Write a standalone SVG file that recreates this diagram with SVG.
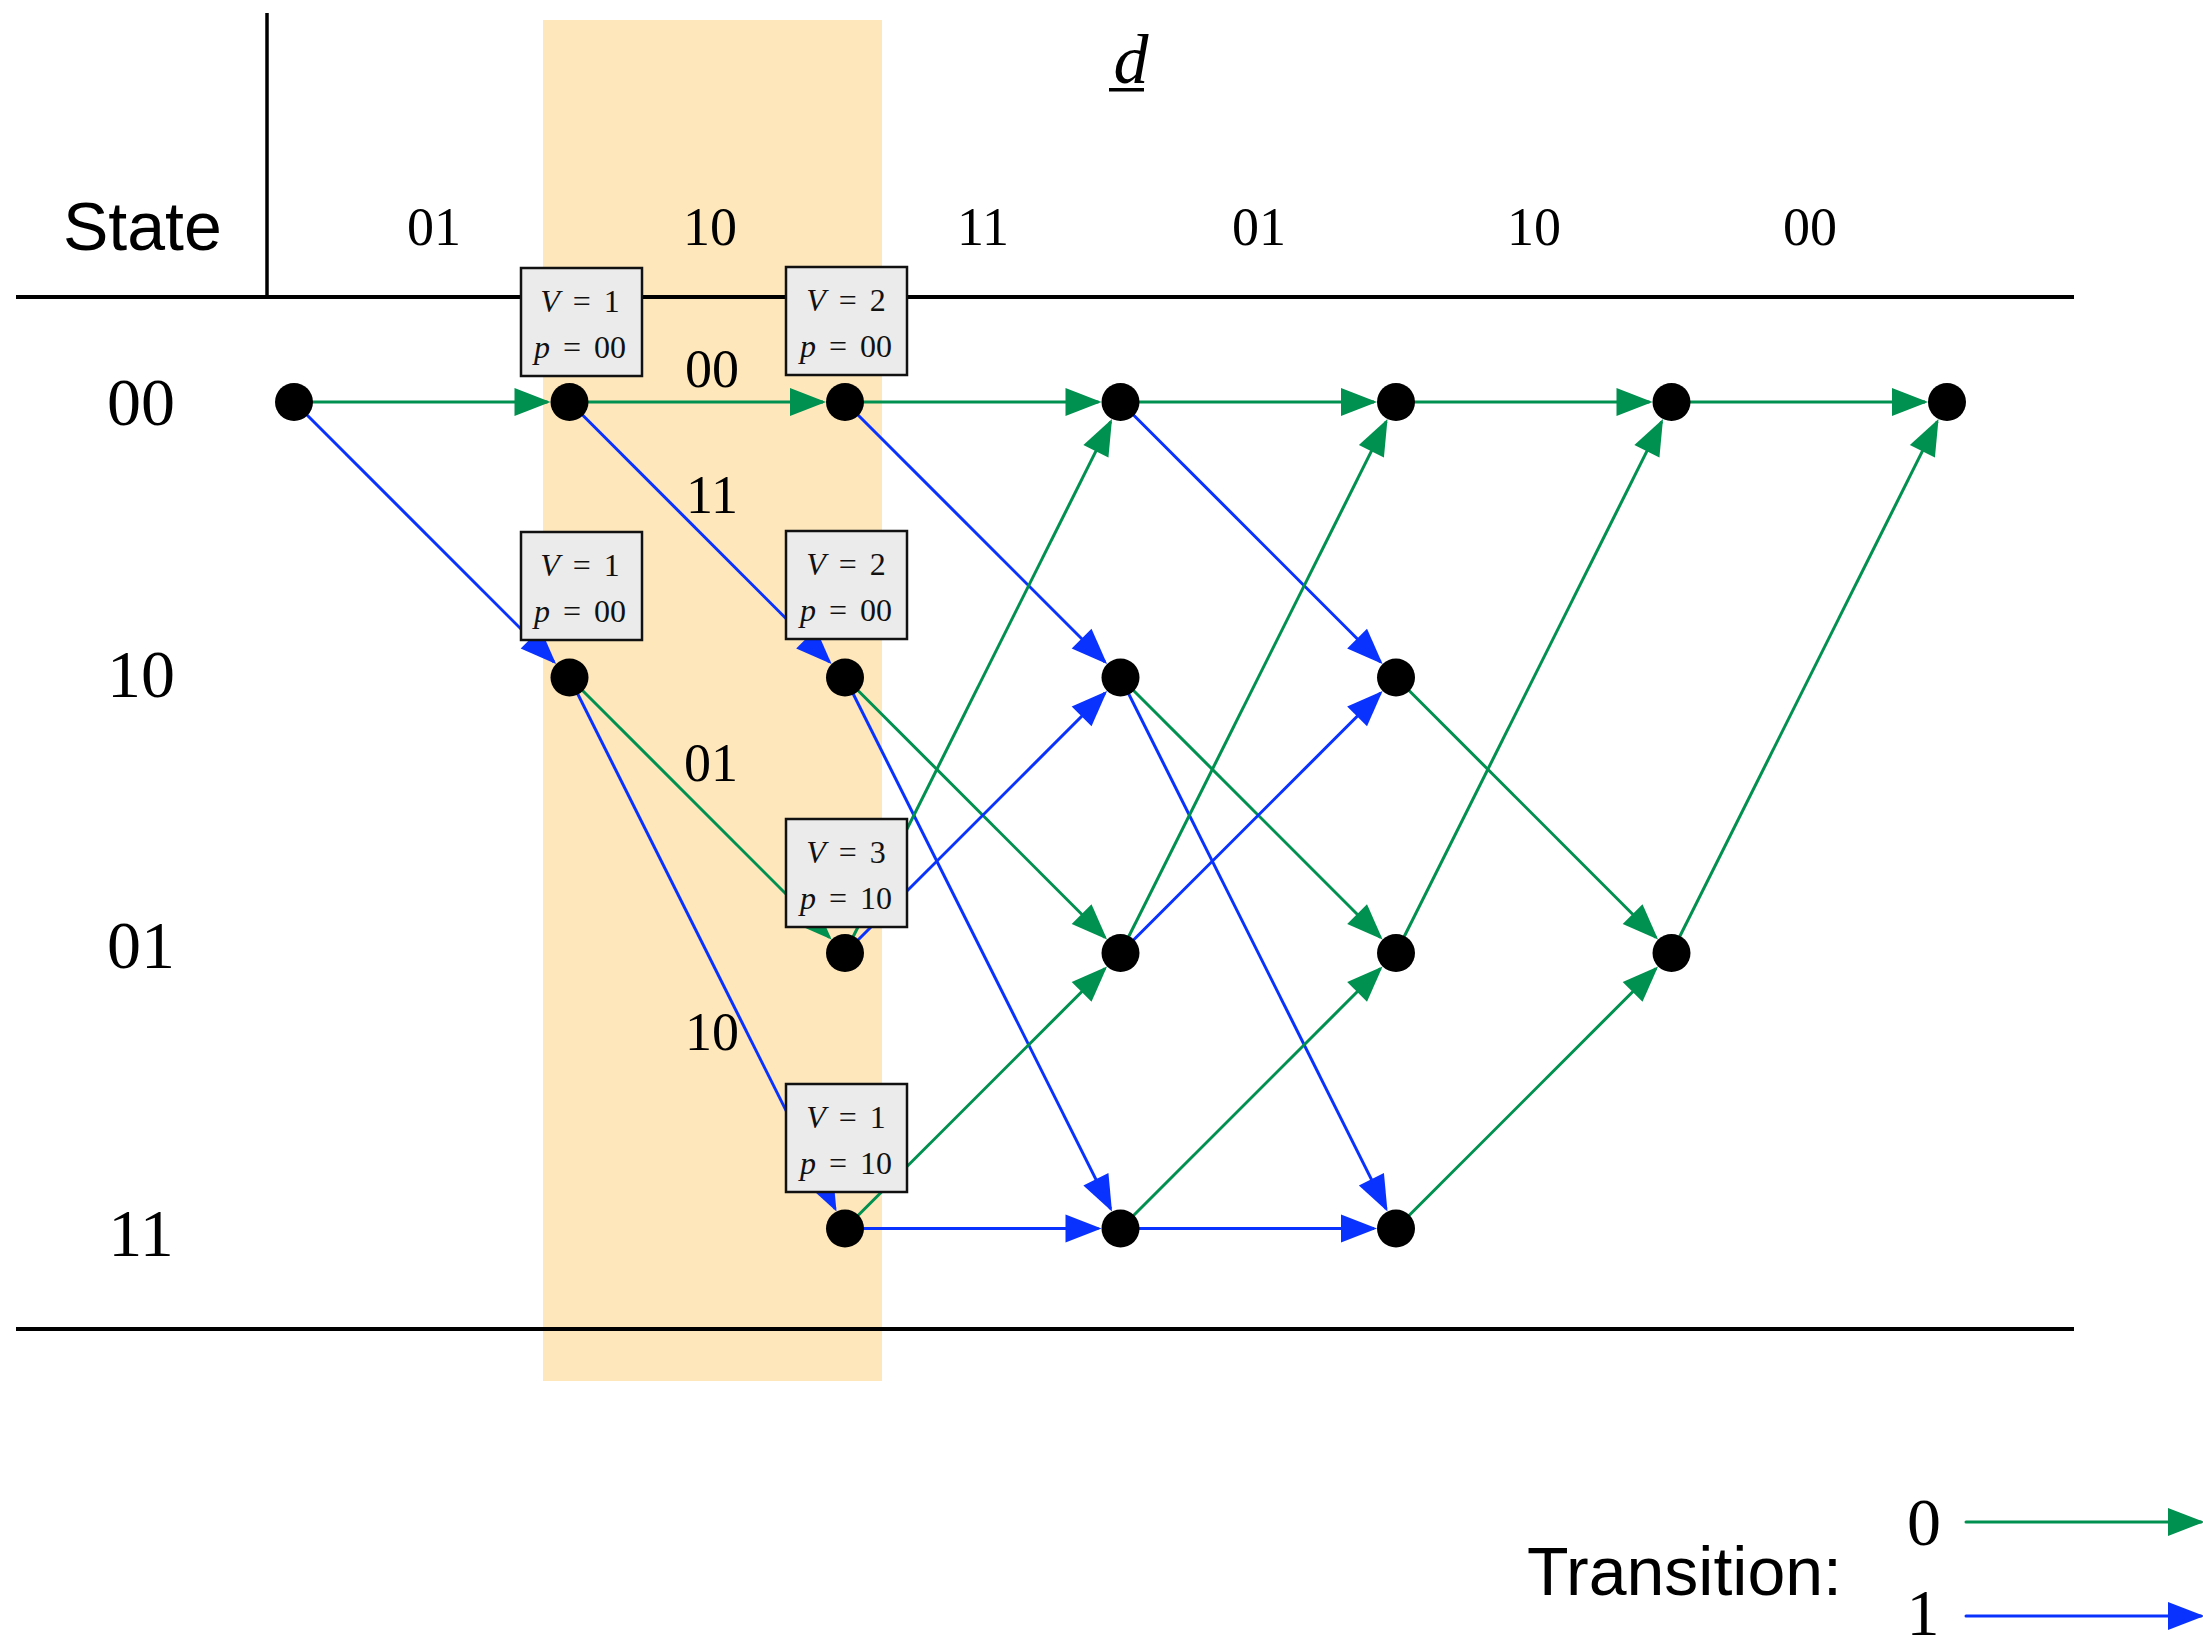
<svg xmlns="http://www.w3.org/2000/svg" width="2203" height="1648" viewBox="0 0 2203 1648">
<style>
.serif{font-family:"Liberation Serif","DejaVu Serif",serif;fill:#000}
.sans{font-family:"Liberation Sans",Arial,sans-serif;fill:#000}
.row{font-size:68px;text-anchor:middle}
.top{font-size:54px;text-anchor:middle}
.elab{font-size:54px;text-anchor:middle}
.btxt{font-size:32px;text-anchor:middle;word-spacing:5px;fill:#111}
.box{fill:#EBEBEB;stroke:#111;stroke-width:2.5}
.rule{stroke:#000;stroke-width:4;fill:none}
.g{stroke:#00904F;stroke-width:3;fill:none;marker-end:url(#ag)}
.b{stroke:#0A32FF;stroke-width:3;fill:none;marker-end:url(#ab)}
.node{fill:#000}
</style>
<defs>
<marker id="ag" markerUnits="userSpaceOnUse" markerWidth="36" markerHeight="28" refX="33" refY="14" orient="auto" overflow="visible">
<path d="M0,0 L36,14 L0,28 z" fill="#00904F"/>
</marker>
<marker id="ab" markerUnits="userSpaceOnUse" markerWidth="36" markerHeight="28" refX="33" refY="14" orient="auto" overflow="visible">
<path d="M0,0 L36,14 L0,28 z" fill="#0A32FF"/>
</marker>
</defs>
<rect x="0" y="0" width="2203" height="1648" fill="#fff"/>
<rect id="highlight" x="543" y="20" width="339" height="1361" fill="#FEE7BB"/>
<g id="frame">
<line class="rule" x1="267" y1="13" x2="267" y2="297" style="stroke-width:3.5"/>
<line class="rule" x1="16" y1="297" x2="2074" y2="297"/>
<line class="rule" x1="16" y1="1329" x2="2074" y2="1329"/>
</g>
<g id="headers">
<text class="sans" x="63" y="250" font-size="68">State</text>
<text class="serif" x="1131" y="83" font-size="70" font-style="italic" text-anchor="middle">d</text>
<rect x="1109" y="88" width="35" height="3.5" fill="#000"/>
<text class="serif top" x="434" y="245">01</text>
<text class="serif top" x="710" y="245">10</text>
<text class="serif top" x="983" y="245">11</text>
<text class="serif top" x="1259" y="245">01</text>
<text class="serif top" x="1534" y="245">10</text>
<text class="serif top" x="1810" y="245">00</text>
<text class="serif row" x="141" y="425">00</text>
<text class="serif row" x="141" y="697">10</text>
<text class="serif row" x="141" y="968">01</text>
<text class="serif row" x="141" y="1256">11</text>
</g>
<g id="connectors">
<line class="g" x1="294" y1="402" x2="547.5" y2="402"/>
<line class="b" x1="294" y1="402" x2="553.94" y2="661.94"/>
<line class="g" x1="569.5" y1="402" x2="823" y2="402"/>
<line class="b" x1="569.5" y1="402" x2="829.44" y2="661.94"/>
<line class="g" x1="569.5" y1="677.5" x2="829.44" y2="937.44"/>
<line class="b" x1="569.5" y1="677.5" x2="835.16" y2="1208.82"/>
<line class="g" x1="845" y1="402" x2="1098.5" y2="402"/>
<line class="b" x1="845" y1="402" x2="1104.94" y2="661.94"/>
<line class="g" x1="845" y1="677.5" x2="1104.94" y2="937.44"/>
<line class="b" x1="845" y1="677.5" x2="1110.66" y2="1208.82"/>
<line class="g" x1="845" y1="953" x2="1110.66" y2="421.68"/>
<line class="b" x1="845" y1="953" x2="1104.94" y2="693.06"/>
<line class="g" x1="845" y1="1228.5" x2="1104.94" y2="968.56"/>
<line class="b" x1="845" y1="1228.5" x2="1098.5" y2="1228.5"/>
<line class="g" x1="1120.5" y1="402" x2="1374" y2="402"/>
<line class="b" x1="1120.5" y1="402" x2="1380.44" y2="661.94"/>
<line class="g" x1="1120.5" y1="677.5" x2="1380.44" y2="937.44"/>
<line class="b" x1="1120.5" y1="677.5" x2="1386.16" y2="1208.82"/>
<line class="g" x1="1120.5" y1="953" x2="1386.16" y2="421.68"/>
<line class="b" x1="1120.5" y1="953" x2="1380.44" y2="693.06"/>
<line class="g" x1="1120.5" y1="1228.5" x2="1380.44" y2="968.56"/>
<line class="b" x1="1120.5" y1="1228.5" x2="1374" y2="1228.5"/>
<line class="g" x1="1396" y1="402" x2="1649.5" y2="402"/>
<line class="g" x1="1396" y1="677.5" x2="1655.94" y2="937.44"/>
<line class="g" x1="1396" y1="953" x2="1661.66" y2="421.68"/>
<line class="g" x1="1396" y1="1228.5" x2="1655.94" y2="968.56"/>
<line class="g" x1="1671.5" y1="402" x2="1925" y2="402"/>
<line class="g" x1="1671.5" y1="953" x2="1937.16" y2="421.68"/>
</g>
<g id="edge-labels">
<text class="serif elab" x="712" y="387">00</text>
<text class="serif elab" x="712" y="513">11</text>
<text class="serif elab" x="711" y="781">01</text>
<text class="serif elab" x="712" y="1050">10</text>
</g>
<g id="n0_0"><circle class="node" cx="294" cy="402" r="19"/></g>
<g id="n1_0"><circle class="node" cx="569.5" cy="402" r="19"/></g>
<g id="n1_1"><circle class="node" cx="569.5" cy="677.5" r="19"/></g>
<g id="n2_0"><circle class="node" cx="845" cy="402" r="19"/></g>
<g id="n2_1"><circle class="node" cx="845" cy="677.5" r="19"/></g>
<g id="n2_2"><circle class="node" cx="845" cy="953" r="19"/></g>
<g id="n2_3"><circle class="node" cx="845" cy="1228.5" r="19"/></g>
<g id="n3_0"><circle class="node" cx="1120.5" cy="402" r="19"/></g>
<g id="n3_1"><circle class="node" cx="1120.5" cy="677.5" r="19"/></g>
<g id="n3_2"><circle class="node" cx="1120.5" cy="953" r="19"/></g>
<g id="n3_3"><circle class="node" cx="1120.5" cy="1228.5" r="19"/></g>
<g id="n4_0"><circle class="node" cx="1396" cy="402" r="19"/></g>
<g id="n4_1"><circle class="node" cx="1396" cy="677.5" r="19"/></g>
<g id="n4_2"><circle class="node" cx="1396" cy="953" r="19"/></g>
<g id="n4_3"><circle class="node" cx="1396" cy="1228.5" r="19"/></g>
<g id="n5_0"><circle class="node" cx="1671.5" cy="402" r="19"/></g>
<g id="n5_2"><circle class="node" cx="1671.5" cy="953" r="19"/></g>
<g id="n6_0"><circle class="node" cx="1947" cy="402" r="19"/></g>
<g id="box1_0">
<rect class="box" x="521" y="268" width="121" height="108"/>
<text class="serif btxt" x="580" y="312"><tspan font-style="italic">V</tspan> = 1</text>
<text class="serif btxt" x="580" y="358"><tspan font-style="italic">p</tspan> = 00</text>
</g>
<g id="box2_0">
<rect class="box" x="786" y="267" width="121" height="108"/>
<text class="serif btxt" x="846" y="311"><tspan font-style="italic">V</tspan> = 2</text>
<text class="serif btxt" x="846" y="357"><tspan font-style="italic">p</tspan> = 00</text>
</g>
<g id="box1_1">
<rect class="box" x="521" y="532" width="121" height="108"/>
<text class="serif btxt" x="580" y="576"><tspan font-style="italic">V</tspan> = 1</text>
<text class="serif btxt" x="580" y="622"><tspan font-style="italic">p</tspan> = 00</text>
</g>
<g id="box2_1">
<rect class="box" x="786" y="531" width="121" height="108"/>
<text class="serif btxt" x="846" y="575"><tspan font-style="italic">V</tspan> = 2</text>
<text class="serif btxt" x="846" y="621"><tspan font-style="italic">p</tspan> = 00</text>
</g>
<g id="box2_2">
<rect class="box" x="786" y="819" width="121" height="108"/>
<text class="serif btxt" x="846" y="863"><tspan font-style="italic">V</tspan> = 3</text>
<text class="serif btxt" x="846" y="909"><tspan font-style="italic">p</tspan> = 10</text>
</g>
<g id="box2_3">
<rect class="box" x="786" y="1084" width="121" height="108"/>
<text class="serif btxt" x="846" y="1128"><tspan font-style="italic">V</tspan> = 1</text>
<text class="serif btxt" x="846" y="1174"><tspan font-style="italic">p</tspan> = 10</text>
</g>
<g id="legend">
<text class="sans" x="1527" y="1595" font-size="68">Transition:</text>
<text class="serif" x="1924" y="1545" font-size="68" text-anchor="middle">0</text>
<text class="serif" x="1923" y="1635" font-size="66" text-anchor="middle">1</text>
<line class="g" x1="1966" y1="1522" x2="2201" y2="1522" stroke-linecap="round"/>
<line class="b" x1="1966" y1="1616" x2="2201" y2="1616" stroke-linecap="round"/>
</g>
</svg>
